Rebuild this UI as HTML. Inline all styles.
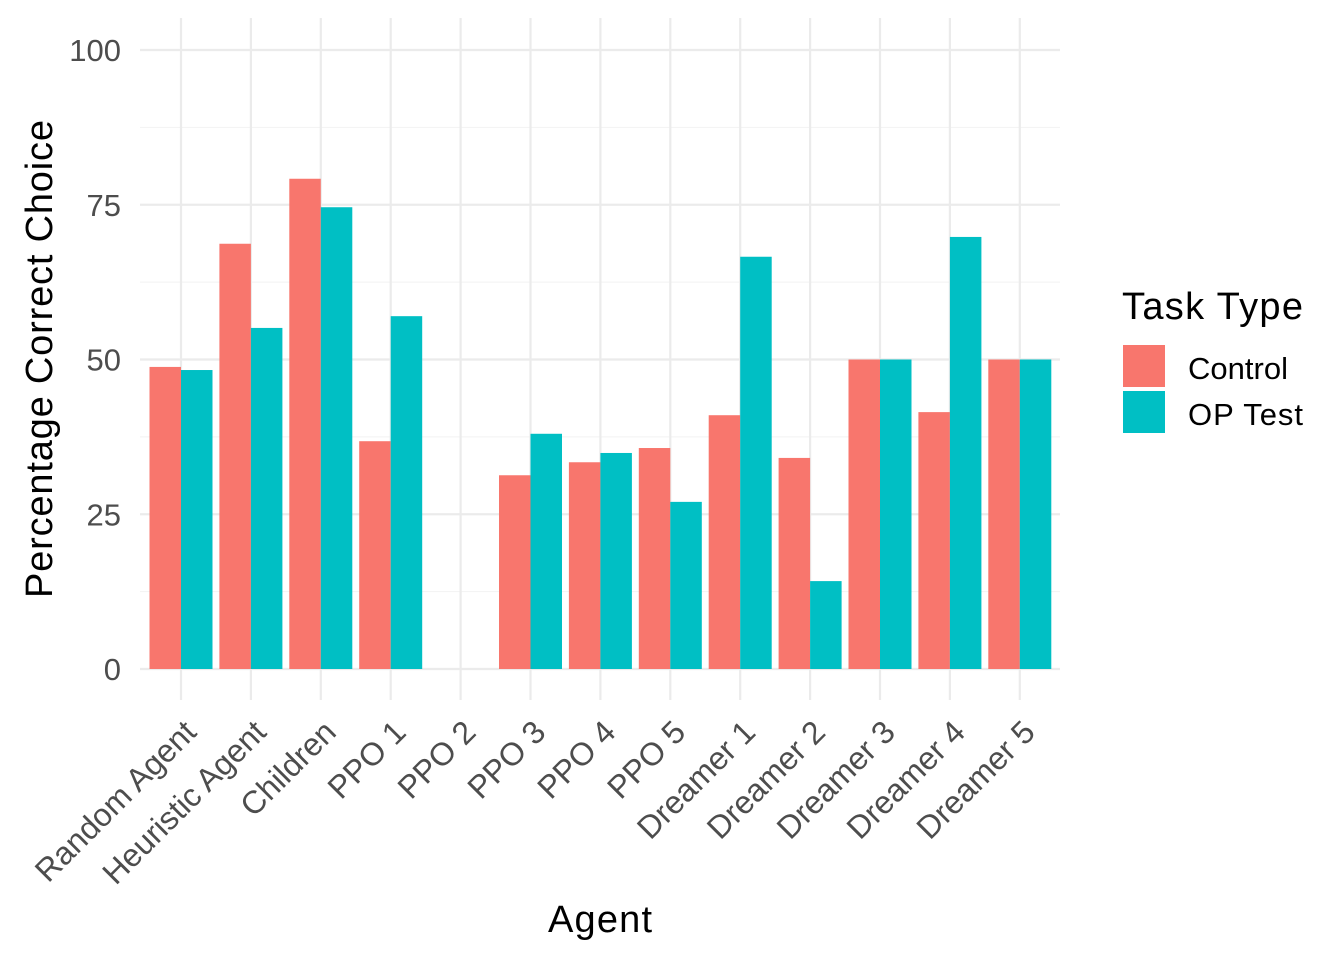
<!DOCTYPE html>
<html><head><meta charset="utf-8"><style>
body{margin:0;background:#fff;}
svg text{font-family:"Liberation Sans",Arial,sans-serif;}
</style></head><body>
<svg id="chart" width="1344" height="960" xmlns="http://www.w3.org/2000/svg">
<g id="grid"></g>
<g id="bars"></g>
<g id="axes"></g>
<text x="600" y="932" font-size="38" text-anchor="middle" textLength="104" fill="#000">Agent</text>
<text transform="translate(52,359) rotate(-90)" font-size="38" text-anchor="middle" textLength="478" fill="#000">Percentage Correct Choice</text>
<g>
<text x="1122" y="319" font-size="38" textLength="181" fill="#000">Task Type</text>
<rect x="1123" y="345" width="42" height="42" fill="#F8766D"/>
<text x="1188" y="379" font-size="31" textLength="100" fill="#000">Control</text>
<rect x="1123" y="391" width="42" height="42" fill="#00BFC4"/>
<text x="1188" y="425" font-size="31" textLength="115" fill="#000">OP Test</text>
</g>
</svg>
<script>
const categories=["Random Agent","Heuristic Agent","Children","PPO 1","PPO 2","PPO 3","PPO 4","PPO 5","Dreamer 1","Dreamer 2","Dreamer 3","Dreamer 4","Dreamer 5"];
const controlValues=[48.8,68.7,79.2,36.8,0,31.3,33.4,35.7,41.0,34.1,50,41.5,50];
const opTestValues=[48.3,55.1,74.6,57.0,0,38.0,34.9,27.0,66.6,14.2,50,69.8,50];
const yTicks=[0,25,50,75,100];
const NS="http://www.w3.org/2000/svg";
const x0=181,step=69.9,y0=669,yScale=6.19;
const xPos=i=>x0+i*step;
const yPos=v=>y0-v*yScale;
const bw=31.5;
function mk(tag,attrs,parent){const e=document.createElementNS(NS,tag);for(const k in attrs)e.setAttribute(k,attrs[k]);parent.appendChild(e);return e;}
const grid=document.getElementById('grid'),bars=document.getElementById('bars'),axes=document.getElementById('axes');
for(let i=0;i<yTicks.length-1;i++){
  const m=(yTicks[i]+yTicks[i+1])/2;
  const l=mk('line',{x1:140,x2:1060,y1:yPos(m),y2:yPos(m),stroke:'#f2f2f2','stroke-width':1},grid);
  
  
}
yTicks.forEach(t=>{
  const l=mk('line',{x1:140,x2:1060,y1:yPos(t),y2:yPos(t),stroke:'#ebebeb','stroke-width':2.2},grid);
  
  
  const tx=mk('text',{x:121,y:yPos(t)+11,'font-size':31,'text-anchor':'end',fill:'#4d4d4d'},axes);
  tx.textContent=t;
  
  
});
categories.forEach((c,i)=>{
  const l=mk('line',{x1:xPos(i),x2:xPos(i),y1:18,y2:700,stroke:'#ebebeb','stroke-width':2.2},grid);
  
  
  const b1=mk('rect',{x:xPos(i)-bw,y:yPos(controlValues[i]),width:bw,height:controlValues[i]*yScale,fill:'#F8766D'},bars);
  
  
  const b2=mk('rect',{x:xPos(i),y:yPos(opTestValues[i]),width:bw,height:opTestValues[i]*yScale,fill:'#00BFC4'},bars);
  
  
  const tx=mk('text',{transform:`translate(${xPos(i)+17},${734}) rotate(-45)`,'font-size':32,'text-anchor':'end',fill:'#4d4d4d'},axes);
  tx.textContent=c;
  
  
});
</script>
</body></html>
